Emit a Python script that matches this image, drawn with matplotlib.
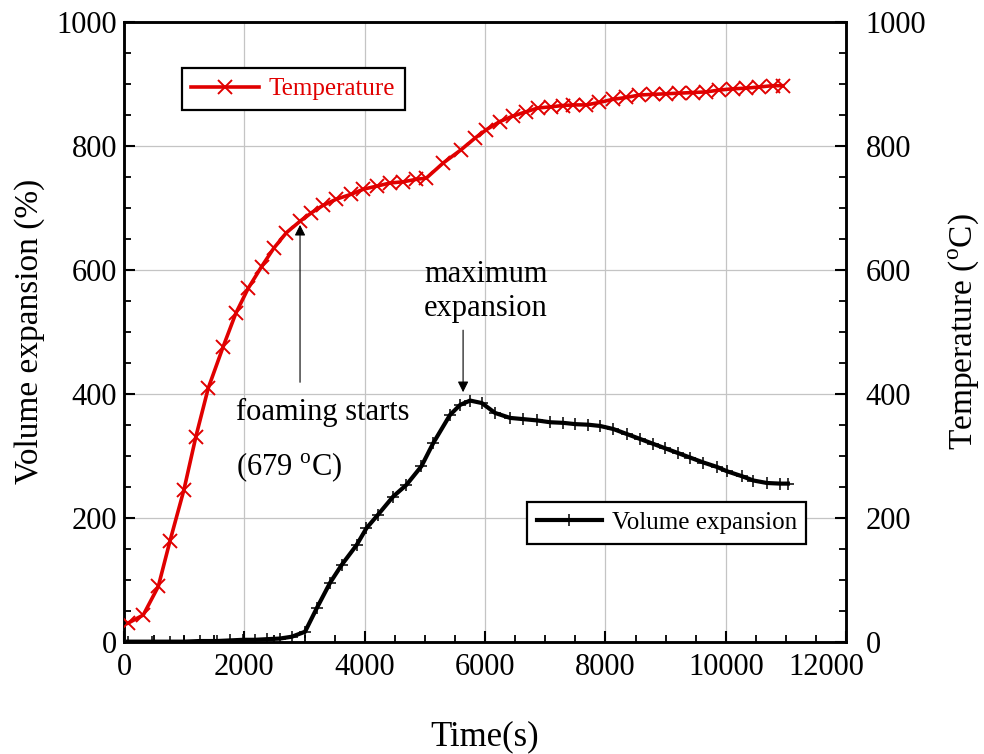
import matplotlib
matplotlib.use("Agg")
import matplotlib.pyplot as plt
from matplotlib.ticker import MultipleLocator, FuncFormatter

plt.rcParams["font.family"] = "Liberation Serif"
plt.rcParams["mathtext.fontset"] = "custom"
plt.rcParams["mathtext.rm"] = "Liberation Serif"

# temperature (right axis)
temp_time = [70, 320, 570, 763, 996, 1195, 1400, 1648, 1859, 2063, 2285, 2490,
             2700, 2921, 3115, 3308, 3530, 3779, 3977, 4200, 4420, 4640, 4860,
             5024, 5300, 5605, 5826, 6020, 6240, 6461, 6683, 6876, 7098, 7291,
             7457, 7679, 7900, 8121, 8343, 8565, 8785, 9007, 9228, 9449, 9671,
             9892, 10113, 10335, 10556, 10777, 10943]
temp_val = [30, 43, 89, 162, 245, 331, 409, 476, 530, 570, 605, 635,
            660, 678, 692, 704, 714, 722, 730, 735, 740, 742, 746,
            748, 772, 794, 812, 826, 839, 848, 855, 861, 863, 865,
            866, 866, 870, 875, 878, 882, 883, 884, 885, 886, 887,
            890, 892, 893, 895, 897, 897]

# volume expansion (left axis)
vol_time = [67, 465, 763, 996, 1260, 1540, 1760, 1980, 2180, 2380, 2590, 2790,
            3008, 3203, 3424, 3618, 3866, 4028, 4222, 4471, 4693, 4942, 5136,
            5418, 5585, 5751, 5945, 6166, 6415, 6637, 6858, 7080, 7301, 7495,
            7717, 7911, 8132, 8354, 8576, 8797, 8991, 9213, 9407, 9628, 9850,
            10016, 10265, 10459, 10681, 10902, 11030]
vol_val = [0, 0, 0, 0, 1, 1, 2, 3, 3, 4, 5, 8,
           16, 54, 95, 124, 156, 183, 205, 234, 253, 283, 320,
           366, 382, 389, 385, 369, 361, 359, 357, 354, 353, 351,
           350, 348, 343, 335, 327, 319, 312, 304, 297, 289, 282,
           275, 267, 260, 256, 255, 255]

X_MAX = 12000
RED = "#e00000"

fig = plt.figure(figsize=(9.84, 7.54), dpi=100)
ax = fig.add_axes([0.126, 0.149, 0.734, 0.822])
ax2 = ax.twinx()

ax.plot(vol_time, vol_val, color="black", lw=3, marker="+",
        ms=9, mew=1.1, label="Volume expansion", zorder=3)
ax2.plot(temp_time, temp_val, color=RED, lw=2.6, marker="x",
         ms=10, mew=1.4, label="Temperature", zorder=3)

ax.set_xlim(0, X_MAX)
ax.set_ylim(0, 1000)
ax2.set_ylim(0, 1000)

ax.xaxis.set_major_locator(MultipleLocator(2000))
ax.xaxis.set_minor_locator(MultipleLocator(500))
# the last label is drawn separately, nudged left clear of the right "0"
ax.xaxis.set_major_formatter(
    FuncFormatter(lambda v, p: "" if v >= X_MAX else f"{v:.0f}"))
for a in (ax, ax2):
    a.yaxis.set_major_locator(MultipleLocator(200))
    a.yaxis.set_minor_locator(MultipleLocator(50))

ax.grid(True, which="major", color="#c4c4c4", lw=0.9)
ax.set_axisbelow(True)

ax.tick_params(axis="both", which="major", direction="in", length=8,
               width=1.5, labelsize=22)
ax.tick_params(axis="both", which="minor", direction="in", length=5,
               width=1.3)
ax.tick_params(axis="x", which="both", top=False, pad=8)
ax.tick_params(axis="y", which="major", pad=5)
ax2.tick_params(axis="y", which="major", direction="in", length=8,
                width=1.5, labelsize=22, pad=14)
ax2.tick_params(axis="y", which="minor", direction="in", length=5,
                width=1.3)

for a in (ax, ax2):
    for s in a.spines.values():
        s.set_linewidth(1.8)

ax.annotate(f"{X_MAX}", xy=(X_MAX, 0), xycoords=("data", "axes fraction"),
            xytext=(-14, -8), textcoords="offset points", ha="center",
            va="top", fontsize=22)

ax.set_xlabel("Time(s)", fontsize=25, labelpad=28)
ax.set_ylabel("Volume expansion (%)", fontsize=24, labelpad=8)
ax2.set_ylabel(r"Temperature ($^{\mathrm{o}}$C)", fontsize=24, labelpad=14)

# annotations
ax.annotate("", xy=(2925, 677), xytext=(2925, 414),
            arrowprops=dict(arrowstyle="-|>", color="black", lw=0.8,
                            mutation_scale=16))
ax.text(1861, 369, "foaming starts", fontsize=22, va="center", ha="left")
ax.text(1861, 282, r"(679 $^{\mathrm{o}}$C)", fontsize=22, va="center",
        ha="left")

ax.annotate("", xy=(5634, 398), xytext=(5634, 507),
            arrowprops=dict(arrowstyle="-|>", color="black", lw=0.8,
                            mutation_scale=16))
ax.text(6015, 565, "maximum\nexpansion", fontsize=22, va="center",
        ha="center", linespacing=1.25)

leg1 = ax2.legend(loc="upper left", bbox_to_anchor=(0.080, 0.925),
                  borderaxespad=0, fontsize=18, handlelength=2.7,
                  handletextpad=0.4, borderpad=0.38, fancybox=False,
                  framealpha=1, edgecolor="black")
leg1.get_frame().set_linewidth(1.6)
for t in leg1.get_texts():
    t.set_color(RED)

leg2 = ax.legend(loc="upper left", bbox_to_anchor=(0.558, 0.2253),
                 borderaxespad=0, fontsize=18, handlelength=2.6,
                 handletextpad=0.4, borderpad=0.38, fancybox=False,
                 framealpha=1, edgecolor="black")
leg2.get_frame().set_linewidth(1.6)

fig.savefig("out.png", dpi=100)
